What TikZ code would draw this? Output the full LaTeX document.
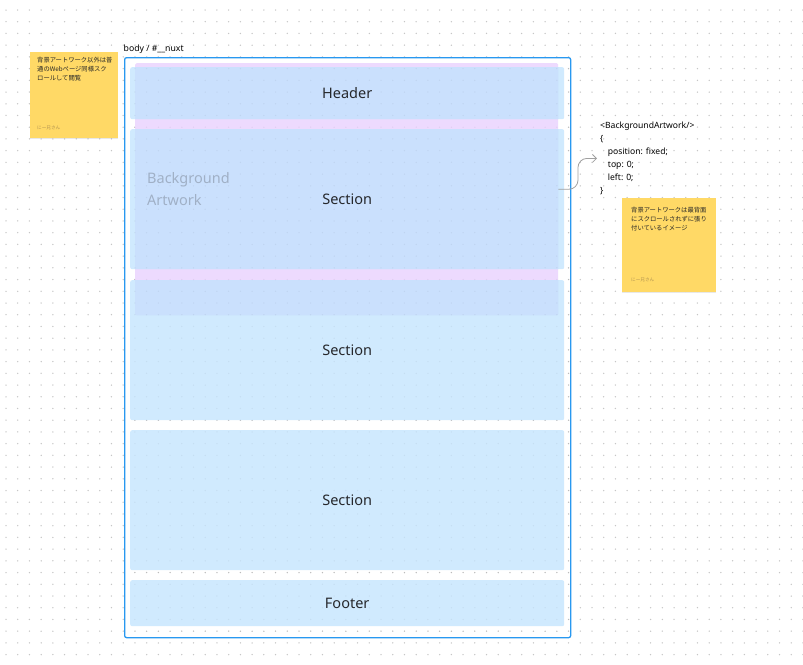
\documentclass[tikz,border=0pt]{standalone}
\usepackage{fontspec}
\setmainfont{Noto Sans}
\newfontfamily\cjk{Noto Sans CJK JP}
\usetikzlibrary{arrows.meta,shadows}
\definecolor{secblue}{RGB}{208,234,254}
\definecolor{overlapblue}{RGB}{202,224,253}
\definecolor{artpurple}{RGB}{237,218,254}
\definecolor{frameblue}{RGB}{40,152,240}
\definecolor{stickyyellow}{RGB}{255,217,102}
\definecolor{dotgray}{RGB}{198,198,198}
\definecolor{arttextcol}{RGB}{160,176,198}
\definecolor{sectextcol}{RGB}{38,40,44}
\definecolor{signcol}{RGB}{175,145,80}
\definecolor{arrowgray}{RGB}{160,160,160}
\begin{document}
\begin{tikzpicture}[x=1pt,y=-1pt,
  artbox/.style={fill=artpurple, draw=none, rounded corners=1.5pt, anchor=north west, inner sep=0pt, minimum width=423pt, minimum height=252pt},
  secbox/.style={fill=secblue, draw=none, rounded corners=2pt, anchor=north west, inner sep=0pt, minimum width=434pt,
     text=sectextcol, font=\fontsize{14.5}{17}\selectfont,
     path picture={\clip (art.north west) rectangle (art.south east);
       \fill[overlapblue] (path picture bounding box.south west) rectangle (path picture bounding box.north east);}},
  stickynote/.style={fill=stickyyellow, draw=none, anchor=north west, inner sep=0pt,
     drop shadow={shadow xshift=0pt, shadow yshift=-1.2pt, opacity=0.18}},
  notetext/.style={anchor=north west, inner sep=0pt, align=left, text=black!85, font=\cjk\fontsize{6.3}{9.1}\selectfont},
  signtext/.style={anchor=west, inner sep=0pt, text=signcol, font=\cjk\fontsize{4.6}{5}\selectfont},
]
\useasboundingbox (0,0) rectangle (803,664);
\fill[white] (0,0) rectangle (803,664);
% dot grid
\foreach \i in {0,...,68} {\foreach \j in {0,...,56} {\fill[dotgray] (6+11.72*\i, 10+11.72*\j) circle (0.75);}}

% background artwork
\node[artbox] (art) at (135,63) {};
% sections
\node[secbox, minimum height=52pt] (header) at (130,67) {Header};
\node[secbox, minimum height=140pt] (sec1) at (130,129) {Section};
\node[secbox, minimum height=140pt] (sec2) at (130,280) {Section};
\node[secbox, minimum height=140pt] (sec3) at (130,430) {Section};
\node[secbox, minimum height=46pt] (footer) at (130,580) {Footer};

% faint grid over the frame
\begin{scope}
\clip (124,57) rectangle (570,637);
\foreach \i in {10,...,48} {\foreach \j in {4,...,53} {\fill[black, opacity=0.05] (6+11.72*\i, 10+11.72*\j) circle (0.75);}}
\end{scope}

\node[anchor=west, inner sep=0pt, align=left, text=arttextcol, font=\fontsize{14.5}{22}\selectfont] (arttext) at (147,189) {Background\\Artwork};

% body frame
\node[draw=frameblue, line width=1.3pt, rounded corners=2pt, anchor=north west, inner sep=0pt, minimum width=446pt, minimum height=580pt] (body) at (124,57) {};
\node[anchor=south west, inner sep=0pt, font=\fontsize{8.7}{11}\selectfont] (bodylabel) at (123.5,54) {body / \#\_\_nuxt};

% code
\node[anchor=west, inner sep=0pt, align=left, font=\fontsize{8.6}{13.07}\selectfont] (code) at (600,158.4)
 {<BackgroundArtwork/>\\\{\\\hspace{7.7pt}position: fixed;\\\hspace{7.7pt}top: 0;\\\hspace{7.7pt}left: 0;\\\}};
\draw[arrowgray, line width=0.8pt, rounded corners=9pt, -{Straight Barb[length=4pt,width=8pt]}] (art.east) -| ([xshift=-22pt]code.west) -- ([xshift=-3pt]code.west);

% sticky notes
\node[stickynote, minimum width=88pt, minimum height=86pt] (note1) at (30,52) {};
\node[notetext] (note1text) at (37,56.8) {背景アートワーク以外は普\\通のWebページ同様スク\\ロールして閲覧};
\node[signtext] (note1sign) at (37,128.3) {にー兄さん};

\node[stickynote, minimum width=94pt, minimum height=94pt] (note2) at (622,198) {};
\node[notetext] (note2text) at (631,206.5) {背景アートワークは最背面\\にスクロールされずに張り\\付いているイメージ};
\node[signtext] (note2sign) at (631,280) {にー兄さん};
\end{tikzpicture}
\end{document}
